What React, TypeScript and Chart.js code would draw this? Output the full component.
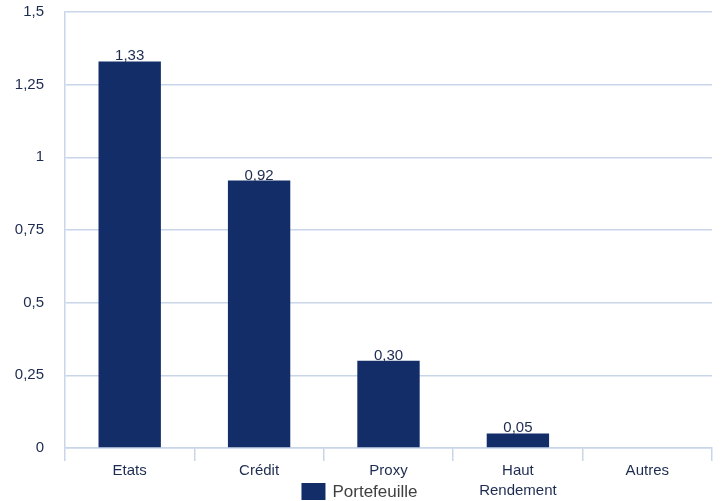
import React, { useEffect, useRef } from "react";
import { Chart, registerables } from "chart.js";

Chart.register(...registerables);

// Répartition par catégorie d'obligations
const categories: (string | string[])[] = ["Etats", "Crédit", "Proxy", ["Haut", "Rendement"], "Autres"];
const portefeuille: (number | null)[] = [1.33, 0.92, 0.3, 0.05, null];
const seriesName = "Portefeuille";
const yTicks = { min: 0, max: 1.5, step: 0.25 };

const NAVY = "#122d68";
const TEXT = "#1d2b50";
const GRID = "#c9d6ea";
const FONT = "'Liberation Sans', Arial, Helvetica, sans-serif";

const fr = (v: number, digits?: number) =>
  (digits === undefined ? String(v) : v.toFixed(digits)).replace(".", ",");

// Valeurs écrites au-dessus de chaque barre
const barValueLabels = {
  id: "barValueLabels",
  afterDatasetsDraw(chart: Chart) {
    const { ctx } = chart;
    chart.data.datasets.forEach((ds, di) => {
      const meta = chart.getDatasetMeta(di);
      meta.data.forEach((bar: any, i: number) => {
        const v = ds.data[i] as number | null;
        if (v === null || v === undefined) return;
        ctx.save();
        ctx.font = `15px ${FONT}`;
        ctx.fillStyle = TEXT;
        ctx.textAlign = "center";
        ctx.textBaseline = "alphabetic";
        ctx.fillText(fr(v, 2), bar.x, bar.y - 1);
        ctx.restore();
      });
    });
  },
};

// Légende centrée sous l'axe, posée par-dessus la seconde ligne des étiquettes
const bottomLegend = {
  id: "bottomLegend",
  afterDraw(chart: Chart) {
    const { ctx, chartArea } = chart;
    const ds = chart.data.datasets[0];
    const boxW = 24;
    const boxH = 17;
    const gap = 7;
    ctx.save();
    ctx.font = `17px ${FONT}`;
    const textW = ctx.measureText(String(ds.label)).width;
    const total = boxW + gap + textW;
    const x0 = (chart.width - 3 - total) / 2;
    const y0 = chartArea.bottom + 35;
    ctx.fillStyle = String(ds.backgroundColor);
    ctx.fillRect(x0, y0, boxW, boxH);
    ctx.fillStyle = "#404040";
    ctx.textAlign = "left";
    ctx.textBaseline = "middle";
    ctx.fillText(String(ds.label), x0 + boxW + gap, y0 + boxH / 2 + 1);
    ctx.restore();
  },
};

export default function App() {
  const canvasRef = useRef<HTMLCanvasElement | null>(null);

  useEffect(() => {
    if (!canvasRef.current) return;
    const chart = new Chart(canvasRef.current, {
      type: "bar",
      data: {
        labels: categories,
        datasets: [
          {
            label: seriesName,
            data: portefeuille,
            backgroundColor: NAVY,
            borderWidth: 0,
            categoryPercentage: 1,
            barPercentage: 0.482,
          },
        ],
      },
      options: {
        responsive: false,
        animation: false,
        layout: { padding: { top: 12, left: 7, right: 10, bottom: 0 } },
        plugins: {
          tooltip: { enabled: false },
          legend: { display: false },
        },
        scales: {
          x: {
            offset: true,
            grid: {
              offset: true,
              drawOnChartArea: false,
              drawTicks: true,
              tickLength: 13,
              color: GRID,
              tickColor: GRID,
              lineWidth: 1.5,
            },
            border: { display: true, color: GRID, width: 1.5 },
            ticks: {
              color: TEXT,
              padding: 0,
              maxRotation: 0,
              autoSkip: false,
              font: { family: FONT, size: 15, lineHeight: 1.33 },
            },
            afterFit(scale: any) {
              scale.height = 53;
            },
          },
          y: {
            min: yTicks.min,
            max: yTicks.max,
            grid: {
              drawTicks: true,
              tickLength: 20,
              tickColor: "rgba(0,0,0,0)",
              color: GRID,
              lineWidth: 1.4,
            },
            border: { display: true, color: GRID, width: 1.5 },
            ticks: {
              stepSize: yTicks.step,
              color: TEXT,
              padding: 1,
              font: { family: FONT, size: 15 },
              callback: (v: any) => fr(Number(v)),
            },
            afterFit(scale: any) {
              scale.width = 58;
            },
          },
        },
      },
      plugins: [barValueLabels, bottomLegend],
    });
    return () => chart.destroy();
  }, []);

  return (
    <div style={{ position: "absolute", left: 0, top: 0, width: 722, height: 501, background: "#fff" }}>
      <canvas ref={canvasRef} width={722} height={501} />
    </div>
  );
}
